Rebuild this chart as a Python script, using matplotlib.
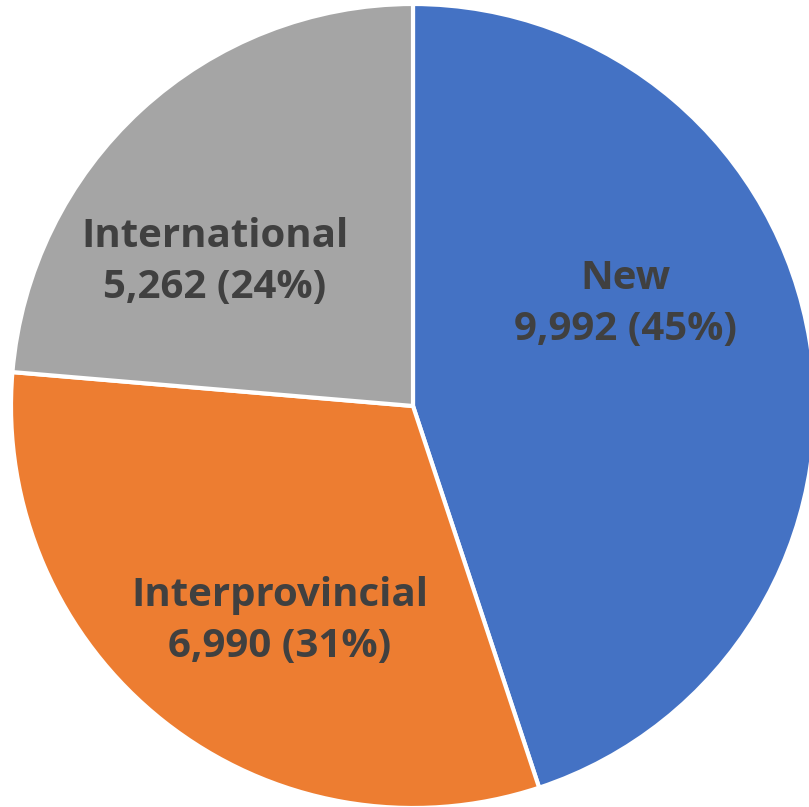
import matplotlib.pyplot as plt

labels = ['New', 'Interprovincial', 'International']
values = [9992, 6990, 5262]
colors = ['#4472C4', '#ED7D31', '#A5A5A5']

total = sum(values)

fig = plt.figure(figsize=(8.09, 8.07), dpi=100)
ax = fig.add_axes([0, 0, 1, 1])

wedges, _ = ax.pie(values, colors=colors, startangle=90, counterclock=False,
                   center=(413, 401), radius=402,
                   wedgeprops=dict(edgecolor='white', linewidth=3), frame=True)
ax.set_xlim(0, 809)
ax.set_ylim(0, 807)
ax.set_aspect('equal')
ax.axis('off')

# label positions (pixels, y up)
label_pos = [(626, 503), (280, 186), (215, 545)]
for lab, v, (x, y) in zip(labels, values, label_pos):
    txt = f"{lab}\n{v:,} ({round(100 * v / total)}%)"
    ax.text(x, y, txt, ha='center', va='center', fontsize=29, fontweight='bold',
            color='#404040', family='Open Sans', linespacing=1.4)

plt.savefig('out.png', dpi=100)
plt.close()
